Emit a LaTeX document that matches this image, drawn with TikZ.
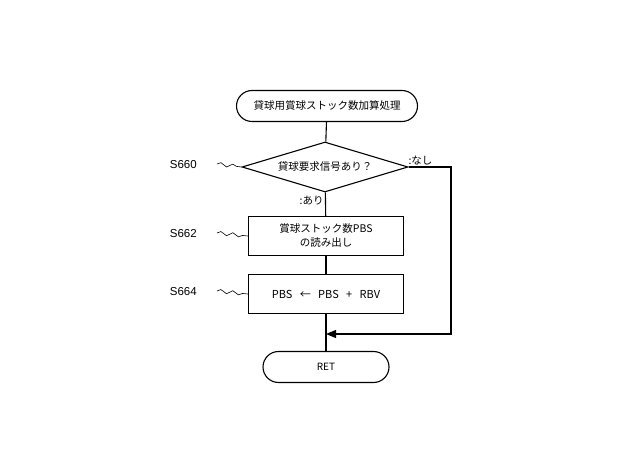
\documentclass[tikz,border=0pt]{standalone}
\usepackage{fontspec}
\setmainfont{Liberation Sans}
\newfontfamily\cjk{Noto Sans CJK JP}
\usetikzlibrary{shapes.geometric,shapes.misc,arrows.meta,decorations.pathmorphing}
\tikzset{
  term/.style={draw,rounded rectangle,minimum width=#1,minimum height=31pt,inner sep=0pt},
  proc/.style={draw,rectangle,minimum width=155pt,minimum height=39pt,align=center,inner sep=0pt},
  dec/.style={draw,diamond,aspect=3.3,minimum width=166pt,minimum height=50pt,inner sep=0pt},
  wavy/.style={decorate,decoration={snake,amplitude=1.8pt,segment length=12pt}},
  steplbl/.style={anchor=west,font=\fontsize{11.5}{13}\selectfont}
}
\begin{document}
\begin{tikzpicture}[x=1pt,y=-1pt,font=\cjk\fontsize{10.5}{14}\selectfont,line width=1.1pt]
\useasboundingbox (0,0) rectangle (640,470);
% nodes
\node[term=181pt] (start) at (327,106) {貸球用賞球ストック数加算処理};
\node[dec] (ask) at (325,167) {貸球要求信号あり？};
\node[proc] (read) at (326,236) {賞球ストック数PBS\\の読み出し};
\node[proc] (add) at (326,294) {\fontsize{11}{13}\selectfont PBS \ \ ←\ \ \ PBS \ \ +\ \ \ RBV};
\node[term=126pt] (ret) at (326,367) {\fontsize{10}{12}\selectfont RET};
\coordinate (join) at (326,334);
\coordinate (corner) at (451,167);
% flow
\draw (start) -- (ask);
\draw (ask) -- node[pos=0.35,left=-2pt] {:あり} (read);
\draw (read) -- (add);
\draw (add) -- (join) -- (ret);
\draw[-{Triangle[length=10pt,width=8pt]}] (ask.east) -- (corner) -- (451,334) -- (join);
\node[anchor=south west,inner sep=1pt] at (407,167) {:なし};
% step labels
\foreach \s/\y/\n in {S660/167/ask,S662/236/read,S664/294/add}{
  \node[steplbl] at (166,\y-2) {\s};
  \draw[wavy,line width=0.6pt] (217,\y-3) -- (\n.west|-0,\y);
}
\end{tikzpicture}
\end{document}
